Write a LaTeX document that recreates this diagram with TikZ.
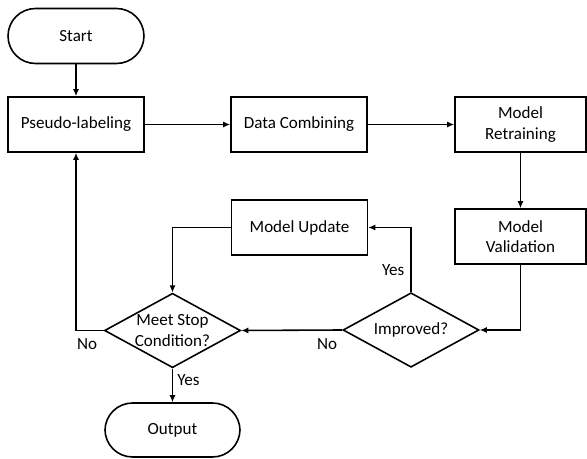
\documentclass[tikz,border=0pt]{standalone}
\usepackage{fontspec}
\setmainfont{Carlito}
\usepackage{tikz}
\usetikzlibrary{arrows.meta, positioning, shapes.geometric, calc}

\begin{document}
\begin{tikzpicture}[font=\fontsize{9.7}{11.6}\selectfont,
                proc/.style={draw, rectangle, line width=0.9pt, minimum width=2.72cm, minimum height=1.1cm, align=center},
                term/.style={draw, rectangle, rounded corners=0.55cm, line width=0.9pt, minimum width=2.72cm, minimum height=1.1cm, align=center},
                decide/.style={draw, diamond, aspect=1.83, line width=0.9pt, inner sep=0pt, minimum width=2.72cm, minimum height=1.49cm, align=center},
                edge/.style={-{Latex[length=4pt, width=3.5pt]}, line width=0.9pt}]

                \useasboundingbox (0,0) rectangle (11.74,9.18);

                % Top row
                \node[term] (start) at (1.52,8.46) {Start};
                \node[proc] (pseudo) at (1.52,6.69) {Pseudo-labeling};
                \node[proc] (combine) at (5.98,6.69) {Data Combining};
                \node[proc, minimum width=2.62cm] (retrain) at (10.41,6.69) {Model\\Retraining};

                % Middle row
                \node[proc] (update) at (5.99,4.63) {Model Update};
                \node[proc, minimum width=2.62cm] (valid) at (10.41,4.45) {Model\\Validation};

                % Decisions
                \node[decide] (improved) at (8.22,2.58) {Improved?};
                \node[decide] (stop) at (3.45,2.57) {Meet Stop\\Condition?};

                % End
                \node[term, minimum width=2.70cm, minimum height=1.08cm] (output) at (3.45,0.58) {Output};

                % Edges
                \draw[edge] (start) -- (pseudo);
                \draw[edge] (pseudo) -- (combine);
                \draw[edge] (combine) -- (retrain);
                \draw[edge] (retrain) -- (valid);
                \draw[edge] (valid.south) |- (improved.east);
                \draw[edge] (improved.north) |- node[pos=0.17, left] {Yes} (update.east);
                \draw[edge] (improved.west) -- node[pos=0.15, below=1pt] {No} (stop.east);
                \draw[edge] (update.west) -| (stop.north);
                \draw[edge] (stop.west) -| node[pos=0.3, below=1pt] {No} (pseudo.south);
                \draw[edge] (stop.south) -- node[pos=0.35, right=-1pt] {Yes} (output);
\end{tikzpicture}
\end{document}
